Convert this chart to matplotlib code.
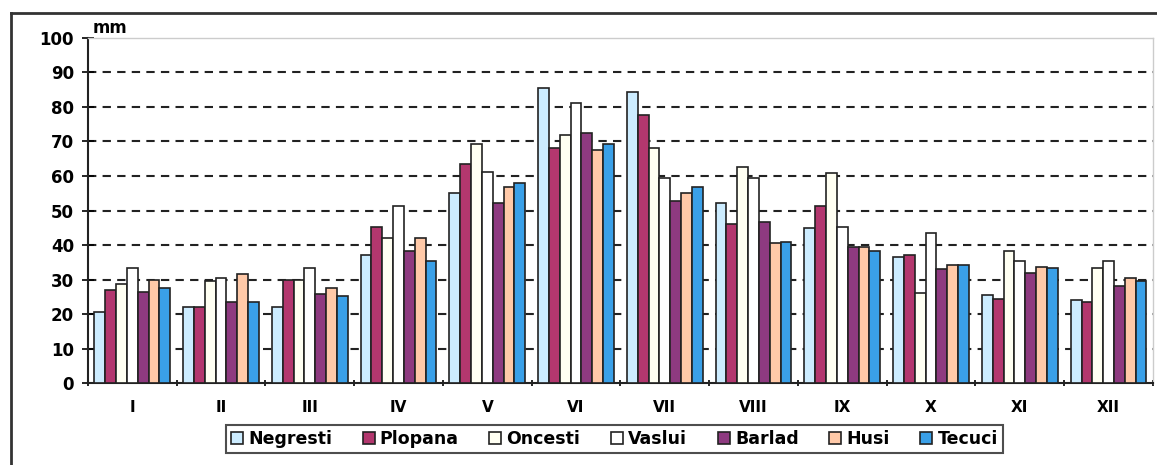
import matplotlib.pyplot as plt
import numpy as np
from matplotlib.lines import Line2D

months = ['I', 'II', 'III', 'IV', 'V', 'VI', 'VII', 'VIII', 'IX', 'X', 'XI', 'XII']
stations = ['Negresti', 'Plopana', 'Oncesti', 'Vaslui', 'Barlad', 'Husi', 'Tecuci']

negresti = [20.7, 21.9, 22.0, 37.1, 55.0, 85.5, 84.4, 52.3, 44.8, 36.4, 25.6, 24.0]
plopana = [27.1, 22.0, 29.8, 45.1, 63.5, 68.0, 77.7, 46.1, 51.3, 37.0, 24.3, 23.5]
oncesti = [28.7, 29.7, 30.0, 42.1, 69.2, 71.9, 68.0, 62.5, 60.8, 26.2, 38.3, 33.2]
vaslui = [33.2, 30.3, 33.2, 51.3, 61.2, 81.1, 59.3, 59.3, 45.1, 43.4, 35.4, 35.3]
barlad = [26.3, 23.5, 25.7, 38.3, 52.3, 72.6, 52.8, 46.6, 39.5, 33.1, 32.0, 28.1]
husi = [29.8, 31.6, 27.5, 42.1, 56.8, 67.5, 55.0, 40.5, 39.3, 34.1, 33.7, 30.4]
tecuci = [27.4, 23.6, 25.3, 35.4, 57.9, 69.4, 56.8, 41.0, 38.3, 34.1, 33.2, 29.7]

series = [negresti, plopana, oncesti, vaslui, barlad, husi, tecuci]
colors = ['#CCECFF', '#B3376E', '#FFFFF2', '#FFFFFF', '#8E3A80', '#FFC9A8', '#3AA0E8']

fig = plt.figure(figsize=(11.57, 4.65), dpi=100)
ax = fig.add_axes([0.076, 0.1763, 0.9205, 0.742])

x = np.arange(len(months))
w = 0.122
for i, (vals, c) in enumerate(zip(series, colors)):
    ax.bar(x + (i - 3) * w, vals, width=w, color=c, edgecolor='#222222',
           linewidth=1.2, label=stations[i], zorder=3)

ax.set_xlim(-0.5, len(months) - 0.5)
ax.set_ylim(0, 100)
ax.set_yticks(range(0, 101, 10))
ax.set_yticklabels([str(v) for v in range(0, 101, 10)], fontweight='heavy',
                   fontsize=12)
ax.set_xticks(x)
ax.set_xticklabels(months, fontweight='heavy', fontsize=11)
ax.set_xticks(np.arange(-0.5, len(months), 1), minor=True)
ax.tick_params(axis='x', which='major', length=0, pad=12)
ax.tick_params(axis='x', which='minor', length=5, width=1.2, direction='inout')
ax.tick_params(axis='y', length=8, width=1.2, direction='inout', pad=6)

for v in range(10, 100, 10):
    ax.axhline(v, color='#222222', lw=1.5, ls=(0, (4, 3)), zorder=1)

for s in ['top', 'right']:
    ax.spines[s].set_color('#cccccc')
    ax.spines[s].set_linewidth(1)
for s in ['left', 'bottom']:
    ax.spines[s].set_color('#222222')
    ax.spines[s].set_linewidth(1.5)

ax.text(0.004, 1.003, 'mm', transform=ax.transAxes, fontsize=12,
        fontweight='bold', va='bottom', ha='left')

leg = fig.legend(loc='center', bbox_to_anchor=(0.531, 0.056), ncol=7,
                 frameon=True, fancybox=False, edgecolor='#222222',
                 handlelength=0.7, handleheight=0.7, handletextpad=0.3,
                 columnspacing=1.75, borderpad=0.3,
                 prop={'weight': 'heavy', 'size': 12.5})
leg.get_frame().set_linewidth(1.5)

# outer frame
fig.add_artist(Line2D([11 / 1157, 11 / 1157], [0, 1 - 13 / 465],
                      transform=fig.transFigure, color='#333333', lw=2))
fig.add_artist(Line2D([11 / 1157, 1], [1 - 13 / 465, 1 - 13 / 465],
                      transform=fig.transFigure, color='#333333', lw=2))

fig.savefig('out.png', dpi=100)
